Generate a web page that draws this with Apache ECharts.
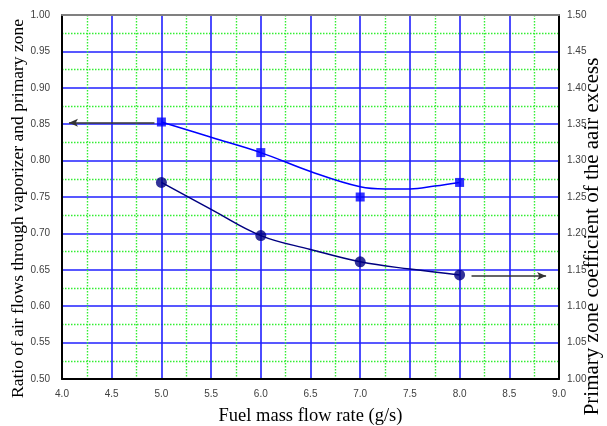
<!DOCTYPE html>
<html>
<head>
<meta charset="utf-8">
<script src="https://cdn.jsdelivr.net/npm/echarts@6/dist/echarts.min.js"></script>
<style>
  html, body { margin: 0; padding: 0; background: #fff; }
  #chart { width: 607px; height: 426px; }
</style>
</head>
<body>
<div id="chart"></div>
<script>
// measured points
var fuelRate = [5.0, 6.0, 7.0, 8.0];
var airRatio = [0.853, 0.811, 0.750, 0.770];
var airExcess = [1.270, 1.197, 1.161, 1.143];

// fitted curves as drawn in the picture
var ratioFitX = [5.0, 5.5, 6.0, 6.5, 7.0, 7.25, 7.5, 7.75, 8.0];
var ratioFitY = [0.853, 0.832, 0.811, 0.785, 0.764, 0.761, 0.761, 0.765, 0.770];
var excessFitX = [5.0, 5.5, 6.0, 6.5, 7.0, 7.5, 8.0];
var excessFitY = [1.270, 1.233, 1.197, 1.178, 1.161, 1.151, 1.143];

// arrows pointing at the axis each curve belongs to
var leftArrowX = [4.93, 4.07];
var leftArrowY = 0.852;
var rightArrowX = [8.12, 8.87];
var rightArrowY = 1.1415;

function zip(xs, ys) {
    return xs.map(function (x, i) { return [x, ys[i]]; });
}

var chart = echarts.init(document.getElementById('chart'));

function tickFont(extra) {
    return Object.assign({
        fontFamily: 'Liberation Sans',
        fontSize: 10,
        color: '#404040'
    }, extra);
}
function titleFont(size, extra) {
    return Object.assign({
        fontFamily: 'Liberation Serif',
        fontSize: size,
        color: '#000'
    }, extra);
}
function majorGrid() {
    return { show: true, lineStyle: { color: '#2020ff', width: 1.6 } };
}
function minorGrid() {
    return { show: true, lineStyle: { color: '#33ee33', width: 1.4, type: [1.5, 1.5] } };
}

var option = {
    backgroundColor: '#fff',
    animation: false,
    grid: { left: 62, right: 48, top: 15, bottom: 47, outerBoundsMode: 'none' },
    xAxis: [
        {
            type: 'value',
            min: 4,
            max: 9,
            interval: 0.5,
            name: 'Fuel mass flow rate (g/s)',
            nameLocation: 'middle',
            nameGap: 28,
            nameMoveOverlap: false,
            nameTextStyle: titleFont(18.5),
            axisLine: { lineStyle: { color: '#000', width: 2 } },
            axisTick: { show: false },
            axisLabel: tickFont({ margin: 10, formatter: function (v) { return v.toFixed(1); } }),
            splitLine: majorGrid(),
            minorTick: { show: false, splitNumber: 2 },
            minorSplitLine: minorGrid()
        },
        {
            type: 'value',
            position: 'top',
            min: 4,
            max: 9,
            axisLine: { show: true, lineStyle: { color: '#808080', width: 2 } },
            axisTick: { show: false },
            axisLabel: { show: false },
            splitLine: { show: false }
        }
    ],
    yAxis: [
        {
            type: 'value',
            min: 0.5,
            max: 1.0,
            interval: 0.05,
            name: 'Ratio of air flows through vaporizer and primary zone',
            nameLocation: 'middle',
            nameGap: 35,
            nameMoveOverlap: false,
            nameTextStyle: titleFont(17.5, { padding: [0, 23, 0, 0] }),
            axisLine: { show: true, lineStyle: { color: '#000', width: 2 } },
            axisTick: { show: false },
            axisLabel: tickFont({ margin: 12, formatter: function (v) { return v.toFixed(2); } }),
            splitLine: majorGrid(),
            minorTick: { show: false, splitNumber: 2 },
            minorSplitLine: minorGrid()
        },
        {
            type: 'value',
            position: 'right',
            min: 1.0,
            max: 1.5,
            interval: 0.05,
            name: 'Primary zone coefficient of the aair excess',
            nameLocation: 'middle',
            nameGap: 23,
            nameMoveOverlap: false,
            nameTextStyle: titleFont(21, { padding: [0, 79, 0, 0] }),
            axisLine: { show: true, lineStyle: { color: '#000', width: 2 } },
            axisTick: { show: false },
            axisLabel: tickFont({ margin: 8, formatter: function (v) { return v.toFixed(2); } }),
            splitLine: { show: false }
        }
    ],
    series: [
        {
            type: 'line',
            smooth: 0.4,
            showSymbol: false,
            data: zip(ratioFitX, ratioFitY),
            lineStyle: { color: '#0000ff', width: 1.5 },
            markLine: {
                silent: true,
                symbol: ['none', 'arrow'],
                symbolSize: [6, 9],
                label: { show: false },
                lineStyle: { color: '#333', width: 1.5, type: 'solid' },
                data: [[
                    { coord: [leftArrowX[0], leftArrowY] },
                    { coord: [leftArrowX[1], leftArrowY] }
                ]]
            },
            z: 3
        },
        {
            type: 'line',
            yAxisIndex: 1,
            smooth: 0.4,
            showSymbol: false,
            data: zip(excessFitX, excessFitY),
            lineStyle: { color: '#000080', width: 1.5 },
            markLine: {
                silent: true,
                symbol: ['none', 'arrow'],
                symbolSize: [6, 9],
                label: { show: false },
                lineStyle: { color: '#333', width: 1.5, type: 'solid' },
                data: [[
                    { coord: [rightArrowX[0], rightArrowY] },
                    { coord: [rightArrowX[1], rightArrowY] }
                ]]
            },
            z: 3
        },
        {
            type: 'scatter',
            symbol: 'rect',
            symbolSize: 9,
            data: zip(fuelRate, airRatio),
            itemStyle: { color: '#0000ff' },
            z: 4
        },
        {
            type: 'scatter',
            yAxisIndex: 1,
            symbol: 'circle',
            symbolSize: 11,
            data: zip(fuelRate, airExcess),
            itemStyle: { color: '#000080' },
            z: 4
        }
    ]
};

chart.setOption(option);
</script>
</body>
</html>
